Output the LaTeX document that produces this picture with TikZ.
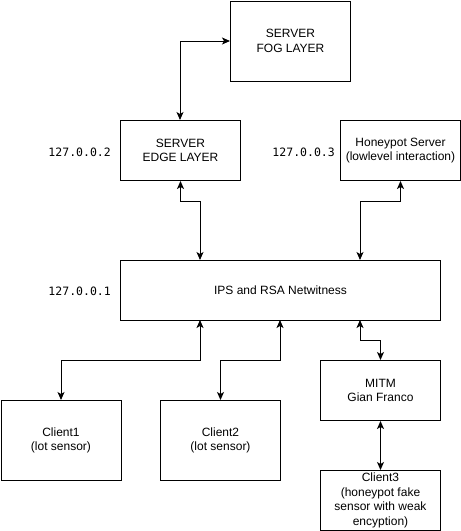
\documentclass[tikz,border=0pt]{standalone}
\usepackage{fontspec}
\setmainfont{Liberation Sans}
\newfontfamily\ipfont{DejaVu Sans Mono}
\usetikzlibrary{arrows.meta}
\begin{document}
\begin{tikzpicture}[x=1pt,y=-1pt,
  box/.style={draw,line width=1pt,anchor=north west,inner sep=0pt,align=center,
    font=\fontsize{12}{14.5}\selectfont},
  conn/.style={line width=1pt,{Stealth[length=8pt,width=7pt,inset=2pt]}-{Stealth[length=8pt,width=7pt,inset=2pt]}},
  ip/.style={anchor=east,inner sep=0pt,font=\ipfont\fontsize{11.5}{13}\selectfont}]
\useasboundingbox (0,0) rectangle (461,531);
\node[box,minimum width=120pt,minimum height=80pt] (fog) at (230,0.5) {SERVER\\FOG LAYER};
\node[box,minimum width=120pt,minimum height=60pt] (edge) at (120,120) {SERVER\\EDGE LAYER};
\node[box,minimum width=120pt,minimum height=60pt] (hp) at (340,120) {Honeypot Server\\(lowlevel interaction)};
\node[box,minimum width=320pt,minimum height=60pt] (ips) at (120,260) {IPS and RSA Netwitness};
\node[box,minimum width=120pt,minimum height=80pt] (c1) at (0.5,400) {Client1\\(lot sensor)};
\node[box,minimum width=120pt,minimum height=80pt] (c2) at (160,400) {Client2\\(lot sensor)};
\node[box,minimum width=120pt,minimum height=60pt] (mitm) at (320,360) {MITM\\Gian Franco};
\node[box,minimum width=120pt,minimum height=60pt] (c3) at (320,470) {Client3\\(honeypot fake\\sensor with weak\\encyption)};
\node[ip] (ip2) at (111,152) {127.0.0.2};
\node[ip] (ip3) at (335,152) {127.0.0.3};
\node[ip] (ip1) at (111,291) {127.0.0.1};
\coordinate (e1) at (180,120);
\coordinate (f1) at (230,40);
\draw[conn] (e1) |- (fog.west);
\draw[conn] (edge.south) -- ++(0,20) -| (200,260);
\draw[conn] (hp.south) -- ++(0,20) -| (360,260);
\draw[conn] (200,320) -- ++(0,40) -| (c1.north);
\draw[conn] (280,320) -- ++(0,40) -| (c2.north);
\draw[conn] (360,320) -- ++(0,20) -| (mitm.north);
\draw[conn] (mitm.south) -- (c3.north);
\end{tikzpicture}
\end{document}
